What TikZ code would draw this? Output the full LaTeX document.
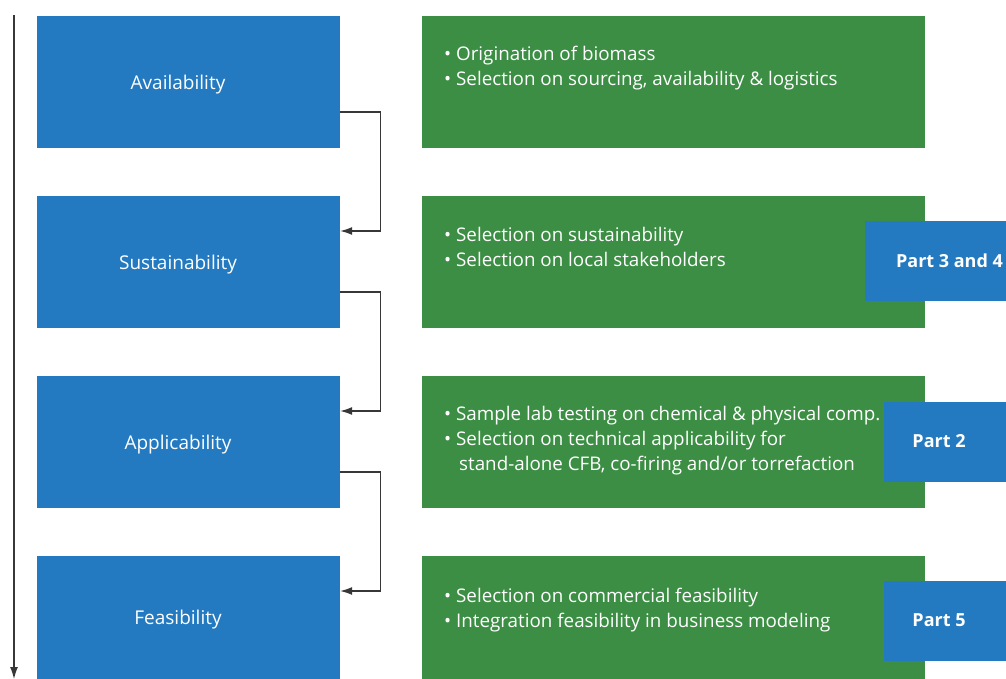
\documentclass[tikz,border=0pt]{standalone}
\usepackage{fontspec}
\setmainfont{Open Sans}
\usetikzlibrary{arrows.meta,positioning}

\definecolor{stageblue}{RGB}{36,122,192}
\definecolor{infogreen}{RGB}{59,142,67}
\definecolor{flowgray}{RGB}{55,55,55}

\tikzset{
	stage/.style={fill=stageblue, text=white, minimum width=303pt, minimum height=132pt, inner sep=0pt, text depth=0pt, font=\fontsize{19}{22}\selectfont, execute at end node=\hspace*{21pt}},
	info/.style={fill=infogreen, minimum width=503pt, minimum height=132pt, inner sep=0pt},
	infotext/.style={text=white, anchor=north west, align=left, inner sep=0pt, font=\fontsize{18.8}{25}\selectfont},
	part/.style={fill=stageblue, text=white, inner sep=0pt, minimum height=80pt, font=\bfseries\fontsize{18}{20}\selectfont},
	flow/.style={draw=flowgray, line width=1.2pt, -{Latex[length=12pt,width=8pt]}}
}

\begin{document}
\begin{tikzpicture}[x=1pt,y=-1pt]
		\useasboundingbox (0,0) rectangle (1006,679);

		% stages
		\node[stage] (avail) at (188.5,82) {Availability};
		\node[stage] (sustain) at (188.5,262) {Sustainability};
		\node[stage] (applic) at (188.5,442) {Applicability};
		\node[stage, minimum height=123pt] (feasib) at (188.5,617.5) {Feasibility};

		% green boxes
		\node[info] (availinfo) at (673.5,82) {};
		\node[info] (sustaininfo) at (673.5,262) {};
		\node[info] (applicinfo) at (673.5,442) {};
		\node[info, minimum height=123pt] (feasibinfo) at (673.5,617.5) {};

		\node[infotext] (availtext) at (444,46) {• Origination of biomass\\ • Selection on sourcing, availability \& logistics};
		\node[infotext] (sustaintext) at (444,227) {• Selection on sustainability\\ • Selection on local stakeholders};
		\node[infotext] (applictext) at (444,406) {• Sample lab testing on chemical \& physical comp.\\ • Selection on technical applicability for\\ \phantom{• }\hspace*{3pt}stand-alone CFB, co-firing and/or torrefaction};
		\node[infotext] (feasibtext) at (444,588) {• Selection on commercial feasibility\\ • Integration feasibility in business modeling};

		% parts
		\node[part, minimum width=141pt] (part34) at (935.5,261) {\hspace*{28pt}Part 3 and 4};
		\node[part, minimum width=122pt] (part2) at (945,441.5) {Part 2\hspace*{12pt}};
		\node[part, minimum width=122pt] (part5) at (945,620.5) {Part 5\hspace*{12pt}};

		% connectors
		\draw[flow] ([yshift=-30pt]avail.east) -- ++(40pt,0) |- ([yshift=31pt]sustain.east);
		\draw[flow] ([yshift=-30pt]sustain.east) -- ++(40pt,0) |- ([yshift=31pt]applic.east);
		\draw[flow] ([yshift=-30pt]applic.east) -- ++(40pt,0) |- ([yshift=26.5pt]feasib.east);

		% time line
		\coordinate (flowtop) at (14,15);
		\coordinate (flowend) at (14,679);
		\draw[flow] (flowtop) -- (flowend);
\end{tikzpicture}
\end{document}
